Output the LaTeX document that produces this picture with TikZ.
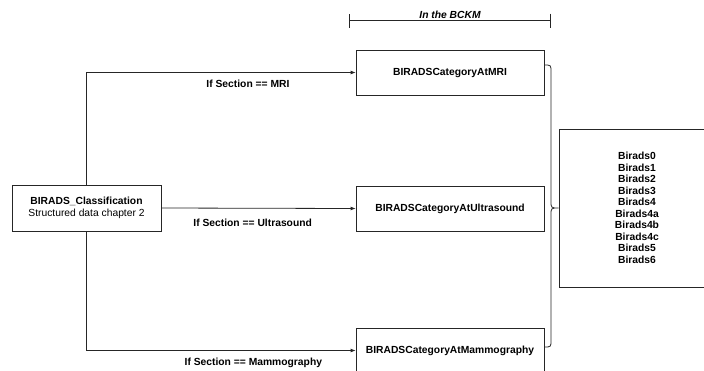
\documentclass[tikz,border=0pt]{standalone}
\usepackage{fontspec}
\setmainfont{Liberation Sans}
\usetikzlibrary{arrows.meta, positioning}

\begin{document}
\begin{tikzpicture}[
      x=1pt, y=-1pt,
      font=\fontsize{10.3}{11.5}\selectfont\bfseries,
      box/.style={draw=black!85, line width=0.8pt, minimum width=188pt, minimum height=45pt, align=center},
      flow/.style={-{Latex[length=5pt, width=4pt]}, line width=0.8pt, draw=black!85},
      cond/.style={below=#1, inner sep=2pt},
      cond/.default=4pt,
      dim/.style={{Bar[width=14pt]}-{Bar[width=14pt]}, line width=0.8pt, draw=black!85}
    ]
    \useasboundingbox (0,0) rectangle (704,370);
    \clip (0,0) rectangle (704,370);
    \node[box, minimum width=149pt, minimum height=46pt] (cls) at (86.5,208) {BIRADS\_Classification\\{\mdseries Structured data chapter 2}};
    \node[box] (mri) at (450,72.5) {BIRADSCategoryAtMRI};
    \node[box] (us) at (450,208.5) {BIRADSCategoryAtUltrasound};
    \node[box] (mammo) at (450,350.5) {BIRADSCategoryAtMammography};
    \node[box, minimum width=156pt, minimum height=158pt] (birads) at (637,208) {Birads0\\Birads1\\Birads2\\Birads3\\Birads4\\Birads4a\\Birads4b\\Birads4c\\Birads5\\Birads6};
    \draw[flow] (cls.north) |- node[cond=5pt, pos=0.8] (ifmri) {If Section == MRI} (mri.west);
    \draw[flow] (cls.east) -- node[cond=8pt, pos=0.47] (ifus) {If Section == Ultrasound} (us.west);
    \draw[flow] (cls.south) |- node[cond=5pt, pos=0.81] (ifmammo) {If Section == Mammography} (mammo.west);
    % scope of the BCKM
    \coordinate (bckmL) at (349,20.5);
    \coordinate (bckmR) at (551,20.5);
    \draw[dim] (bckmL) -- node[above=0.5pt, inner sep=1.5pt, font=\fontsize{10.3}{11.5}\selectfont\bfseries\itshape] (bckm) {In the BCKM} (bckmR);
    % brace towards the categories
    \draw[line width=0.8pt, draw=black!85] (544,65) .. controls (551,65) .. (551,72) -- (551,201)
      .. controls (551,208) .. (birads.west) .. controls (551,208) .. (551,215) -- (551,340)
      .. controls (551,347) .. (544,347);
  \end{tikzpicture}
\end{document}
